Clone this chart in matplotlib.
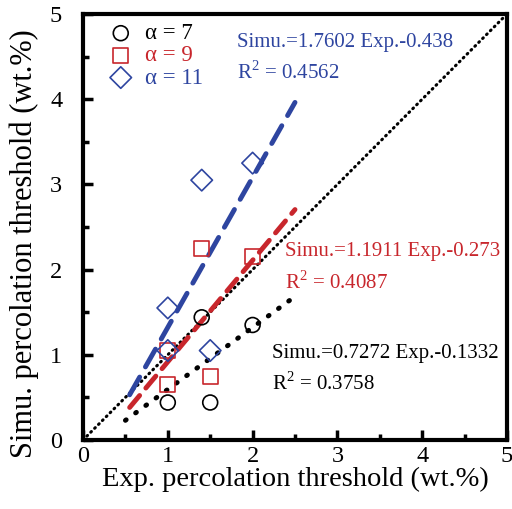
import matplotlib
matplotlib.use("Agg")
import matplotlib.pyplot as plt
import numpy as np

plt.rcParams['font.family'] = ['Liberation Serif', 'DejaVu Serif']
plt.rcParams['mathtext.fontset'] = 'custom'
plt.rcParams['mathtext.rm'] = 'Liberation Serif'

# data
exp7 = [1.0, 1.4, 1.5, 2.0]
sim7 = [0.44, 1.44, 0.44, 1.35]
exp9 = [1.0, 1.0, 1.4, 1.5, 2.0]
sim9 = [0.65, 1.05, 2.25, 0.75, 2.15]
exp11 = [1.0, 1.0, 1.4, 1.5, 2.0]
sim11 = [1.05, 1.55, 3.05, 1.05, 3.25]

fits = {
    '7': (0.7272, -0.1332, 0.5, 2.45),
    '9': (1.1911, -0.273, 0.55, 2.5),
    '11': (1.7602, -0.438, 0.55, 2.5),
}

c_black = '#000000'
c_red = '#c8262c'
c_blue = '#2e45a0'

fig = plt.figure(figsize=(5.12, 5.09), dpi=100)
ax = fig.add_axes([83/512, 1-440/509, 424/512, 426/509])

# diagonal
ax.plot([0, 5], [0, 5], color='black', lw=2.2, ls=(0, (0.3, 1.5)), dash_capstyle='round', zorder=1)

styles = {
    '7': dict(color=c_black, lw=3.5, ls=(0, (0.2, 2.4)), dash_capstyle='round'),
    '9': dict(color=c_red, lw=3.5, ls=(0, (3.2, 2.0)), dash_capstyle='round'),
    '11': dict(color=c_blue, lw=3.5, ls=(0, (4.2, 2.4)), dash_capstyle='round'),
}
for k, (a, b, x0, x1) in fits.items():
    xs = np.array([x0, x1])
    ax.plot(xs, a * xs + b, zorder=2, **styles[k])

ax.scatter(exp7, sim7, s=115, marker='o', facecolors='none', edgecolors=c_black, linewidths=1.2, zorder=3, label='α = 7')
ax.scatter(exp9, sim9, s=115, marker='s', facecolors='none', edgecolors=c_red, linewidths=1.2, zorder=3, label='α = 9')
ax.scatter(exp11, sim11, s=120, marker='D', facecolors='none', edgecolors=c_blue, linewidths=1.2, zorder=3, label='α = 11')

leg = ax.legend(loc='upper left', frameon=False, fontsize=16.5, handletextpad=0.45,
                borderaxespad=0.0, labelspacing=0.05, handlelength=1.2,
                bbox_to_anchor=(0.035, 1.0))
for t, c in zip(leg.get_texts(), [c_black, c_red, c_blue]):
    t.set_color(c)

fs = 15
ax.text(1.82, 4.67, 'Simu.=1.7602 Exp.-0.438', color=c_blue, fontsize=fs, va='center')
ax.text(1.82, 4.31, r'R$^2$ = 0.4562', color=c_blue, fontsize=fs, va='center')
ax.text(2.38, 2.21, 'Simu.=1.1911 Exp.-0.273', color=c_red, fontsize=fs, va='center')
ax.text(2.38, 1.85, r'R$^2$ = 0.4087', color=c_red, fontsize=fs, va='center')
ax.text(2.23, 1.02, 'Simu.=0.7272 Exp.-0.1332', color=c_black, fontsize=fs, va='center')
ax.text(2.23, 0.66, r'R$^2$ = 0.3758', color=c_black, fontsize=fs, va='center')

ax.set_xlim(0, 5)
ax.set_ylim(0, 5)
ax.set_xticks([0, 1, 2, 3, 4, 5])
ax.set_yticks([0, 1, 2, 3, 4, 5])
ax.set_xticks(np.arange(0.5, 5, 1), minor=True)
ax.set_yticks(np.arange(0.5, 5, 1), minor=True)
ax.tick_params(which='both', direction='in', top=False, right=False, width=2.5, labelsize=17.5)
ax.tick_params(axis='x', which='both', pad=4)
ax.tick_params(axis='y', which='both', pad=15)
ax.tick_params(which='major', length=7)
ax.tick_params(which='minor', length=4)
for s in ax.spines.values():
    s.set_linewidth(3)

ax.set_xlabel('Exp. percolation threshold (wt.%)', fontsize=20.5, labelpad=0)
ax.set_ylabel('Simu. percolation threshold (wt.%)', fontsize=22)
ax.yaxis.set_label_coords(-0.103, 0.462)

fig.savefig('out.png', dpi=100)
